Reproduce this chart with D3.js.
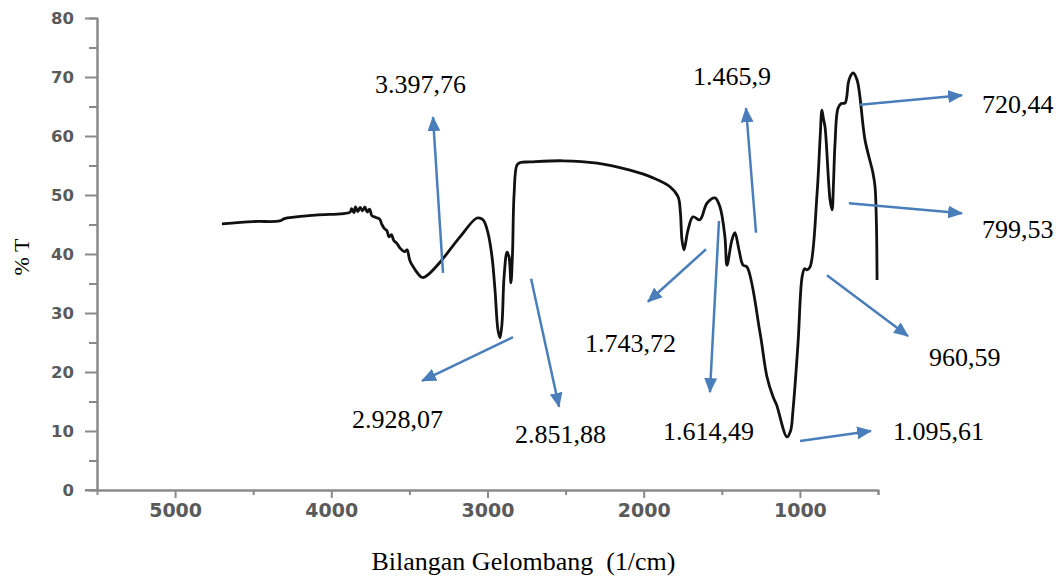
<!DOCTYPE html>
<html>
<head>
<meta charset="utf-8">
<script src="https://cdn.jsdelivr.net/npm/d3@7"></script>
<style>
  body { margin: 0; background: #fff; }
  svg { display: block; }
</style>
</head>
<body>
<div id="my_dataviz"></div>
<script>

// spectrum: wavenumber (1/cm) and %T
var wavenumber = [4700, 4500, 4330, 4300, 4100, 3880, 3870, 3855, 3845, 3830, 3815, 3800, 3785, 3770, 3755, 3740, 3715,
  3690, 3676, 3660, 3645, 3630, 3615, 3600, 3580, 3560, 3530, 3515, 3496, 3460, 3430, 3413, 3380, 3304, 3176, 3067, 3029, 2997,
  2971, 2952, 2933, 2920, 2907, 2894, 2875, 2862, 2850, 2840, 2830, 2811, 2790, 2728, 2517, 2299, 2088, 1940,
  1832, 1780, 1765, 1755, 1742, 1716, 1684, 1640, 1595, 1544, 1512, 1480, 1467, 1435, 1416, 1390, 1364, 1339,
  1255, 1211, 1172, 1150, 1083, 1060, 1044, 1012, 986, 970, 955, 935, 890, 870, 859, 850, 839, 807, 794, 785,
  775, 756, 735, 711, 690, 679, 660, 634, 583, 532, 519, 510, 506];
var transmittance = [45.1, 45.5, 45.6, 46.0, 46.6, 47.1, 47.7, 47.0, 48.0, 47.2, 47.9, 47.3, 48.0, 47.1, 47.6, 46.5, 46.2,
  45.9, 45.0, 44.3, 44.0, 42.9, 43.3, 42.3, 41.8, 41.0, 40.4, 40.7, 38.8, 37.2, 36.2, 36.0, 36.5, 38.6, 42.9, 46.1, 45.8, 43.6,
  39.5, 33.9, 27.1, 25.8, 28.3, 36.1, 40.3, 39.5, 35.1, 40.0, 50.0, 55.1, 55.5, 55.6, 55.8, 55.4, 54.2, 52.9,
  51.4, 49.7, 47.0, 42.4, 40.7, 44.1, 46.3, 45.8, 48.6, 49.5, 48.0, 42.9, 38.1, 42.4, 43.6, 40.7, 38.1, 37.8,
  26.6, 19.2, 15.8, 14.5, 9.0, 10.0, 13.6, 24.9, 36.1, 37.5, 37.3, 37.8, 50.3, 60.0, 64.4, 63.0, 61.5, 49.2, 47.5, 52.0,
  58.8, 64.7, 65.5, 65.6, 69.0, 70.0, 70.7, 69.5, 59.3, 53.7, 51.4, 45.0, 35.6];

// tick values
var xTicks = [5000, 4000, 3000, 2000, 1000];
var xMinorTicks = [4500, 3500, 2500, 1500, 500];
var yTicks = [0, 10, 20, 30, 40, 50, 60, 70, 80];
var yMinorTicks = [5, 15, 25, 35, 45, 55, 65, 75];

// peak labels and their arrows, in data units (start of arrow, tip of arrow, label anchor)
var peakLabels = ["3.397,76", "2.928,07", "2.851,88", "1.743,72", "1.614,49", "1.465,9", "720,44", "799,53", "960,59", "1.095,61"];
var arrowFrom = [[3285, 36.8], [2837, 25.9], [2721, 35.8], [1601, 40.8], [1518, 45.6], [1281, 43.6], [615, 65.3], [686, 48.6], [827, 36.4], [999, 8.3]];
var arrowTo = [[3349, 63.2], [3419, 18.5], [2542, 14.1], [1973, 31.9], [1576, 16.6], [1345, 64.7], [-38, 66.9], [-38, 46.9], [308, 26.1], [545, 10.0]];
var labelAt = [[3720, 67.3], [3867, 10.5], [2824, 8.0], [2376, 23.4], [1876, 8.5], [1684, 68.6], [-166, 63.9], [-166, 42.7], [174, 21.0], [404, 8.5]];

// set the dimensions and margins of the graph
var margin = {top: 18, right: 184, bottom: 86, left: 97},
  width = 1062 - margin.left - margin.right,
  height = 576 - margin.top - margin.bottom;

var svg = d3.select("#my_dataviz")
  .append("svg")
    .attr("width", 1062)
    .attr("height", 576)
    .style("font-family", "'DejaVu Sans', sans-serif")
  .append("g")
    .attr("transform", "translate(" + margin.left + "," + margin.top + ")");

// wavenumber axis runs right to left
var x = d3.scaleLinear()
  .domain([5500, 500])
  .range([0, width]);

var y = d3.scaleLinear()
  .domain([0, 80])
  .range([height, 0]);

var axisColor = "#8a8a8a";

// minor ticks first so the major ones sit on top
svg.append("g")
  .attr("transform", "translate(0," + height + ")")
  .call(d3.axisBottom(x).tickValues(xMinorTicks).tickSize(5).tickFormat(""));
svg.append("g")
  .call(d3.axisLeft(y).tickValues(yMinorTicks).tickSize(8).tickFormat(""));

var xAxis = svg.append("g")
  .attr("transform", "translate(0," + height + ")")
  .call(d3.axisBottom(x).tickValues(xTicks).tickSize(8).tickSizeOuter(0).tickPadding(6).tickFormat(d3.format("d")));

var yAxis = svg.append("g")
  .call(d3.axisLeft(y).tickValues(yTicks).tickSize(12).tickSizeOuter(0).tickPadding(11));

svg.selectAll(".domain, .tick line")
  .attr("stroke", axisColor)
  .attr("stroke-width", 2);

xAxis.selectAll("text")
  .attr("fill", "#5a5a5a")
  .style("font-size", "19px")
  .style("font-weight", "bold")
  .style("font-family", "'DejaVu Sans', sans-serif");

yAxis.selectAll("text")
  .attr("fill", "#5a5a5a")
  .style("font-size", "16.5px")
  .style("font-weight", "bold")
  .style("font-family", "'DejaVu Sans', sans-serif");

// little overhang of the x axis left of the y axis
svg.append("line")
  .attr("x1", -12).attr("x2", 0)
  .attr("y1", height).attr("y2", height)
  .attr("stroke", axisColor)
  .attr("stroke-width", 2);

// axis titles
svg.append("text")
  .attr("x", x(3000) + 36)
  .attr("y", height + 80)
  .attr("text-anchor", "middle")
  .style("white-space", "pre")
  .style("font-family", "'Liberation Serif', 'Times New Roman', serif")
  .style("font-size", "26px")
  .text("Bilangan Gelombang  (1/cm)");

svg.append("text")
  .attr("transform", "translate(" + (-68) + "," + y(39.5) + ") rotate(-90)")
  .attr("text-anchor", "middle")
  .style("font-family", "'Liberation Serif', 'Times New Roman', serif")
  .style("font-size", "22px")
  .text("% T");

// the spectrum
var points = wavenumber.map(function(d, i) { return [d, transmittance[i]]; });

svg.append("path")
  .datum(points)
  .attr("fill", "none")
  .attr("stroke", "#111")
  .attr("stroke-width", 2.8)
  .attr("stroke-linejoin", "round")
  .attr("d", d3.line()
    .curve(d3.curveCatmullRom.alpha(0.5))
    .x(function(d) { return x(d[0]); })
    .y(function(d) { return y(d[1]); }));

// arrow head
svg.append("defs").append("marker")
  .attr("id", "head")
  .attr("markerUnits", "userSpaceOnUse")
  .attr("viewBox", "0 0 14 12")
  .attr("refX", 13)
  .attr("refY", 6)
  .attr("markerWidth", 15)
  .attr("markerHeight", 13)
  .attr("orient", "auto")
  .append("path")
    .attr("d", "M0,0 L14,6 L0,12 Z")
    .attr("fill", "#4a7ebb");

var notes = svg.selectAll(".note")
  .data(peakLabels)
  .enter().append("g")
    .attr("class", "note");

notes.append("line")
  .attr("x1", function(d, i) { return x(arrowFrom[i][0]); })
  .attr("y1", function(d, i) { return y(arrowFrom[i][1]); })
  .attr("x2", function(d, i) { return x(arrowTo[i][0]); })
  .attr("y2", function(d, i) { return y(arrowTo[i][1]); })
  .attr("stroke", "#4a7ebb")
  .attr("stroke-width", 2.5)
  .attr("marker-end", "url(#head)");

notes.append("text")
  .attr("x", function(d, i) { return x(labelAt[i][0]); })
  .attr("y", function(d, i) { return y(labelAt[i][1]); })
  .style("font-family", "'Liberation Serif', 'Times New Roman', serif")
  .style("font-size", "26px")
  .attr("fill", "#000")
  .text(function(d) { return d; });

</script>
</body>
</html>
